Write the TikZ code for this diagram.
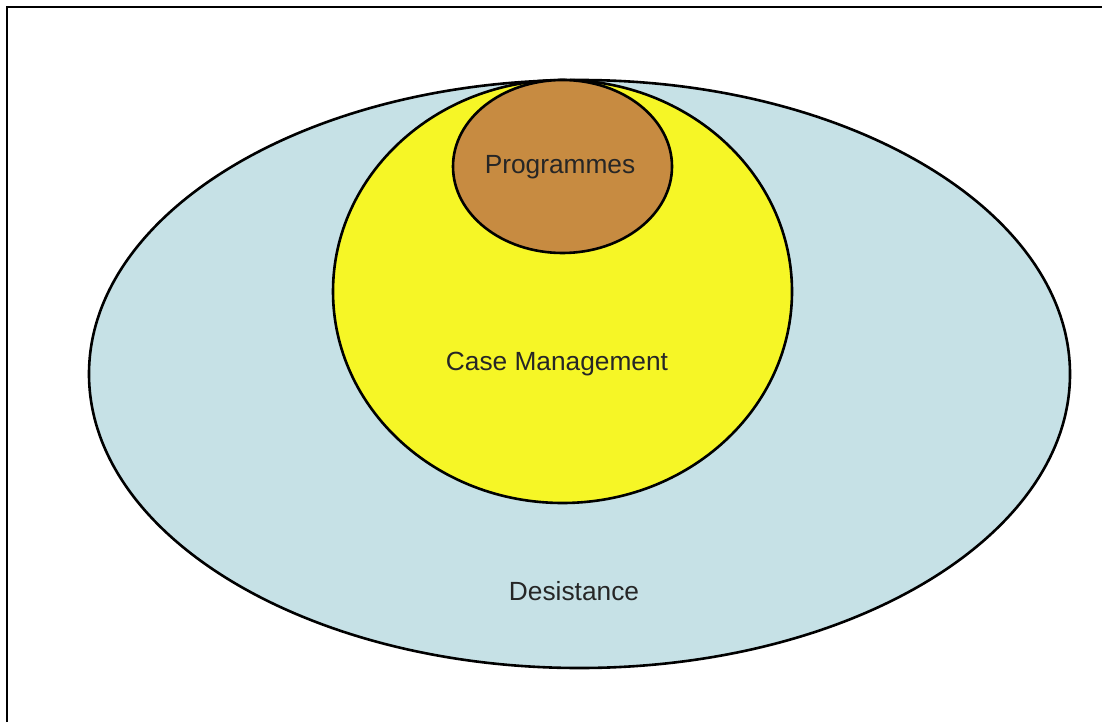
\documentclass[tikz,border=0pt]{standalone}
\usepackage{fontspec}
\setmainfont{Liberation Sans}
\usepackage{xcolor}
\usetikzlibrary{positioning}

\definecolor{desistblue}{rgb}{0.776,0.882,0.902}
\definecolor{caseyellow}{rgb}{0.965,0.965,0.150}
\definecolor{progbrown}{rgb}{0.780,0.545,0.255}

\tikzset{
  ring/.style={draw=black,line width=0.065cm},
  label/.style={inner sep=0pt,text=black!85,font=\fontsize{18.7}{21}\selectfont}
}

\begin{document}
\begin{tikzpicture}[x=0.025cm,y=-0.025cm]
                    \useasboundingbox (0,0) rectangle (1102,722);

                    % Drawing frame
                    \draw [line width=0.07cm] (7,722) -- (7,7) -- (1102,7);%

                    % Drawing ellipse Desistance
                    \filldraw [ring,fill=desistblue] (579.5,374) ellipse (490.5 and 294);%

                    % Drawing ellipse Case Management
                    \filldraw [ring,fill=caseyellow] (562.5,291.5) ellipse (229.5 and 211.5);%

                    % Drawing ellipse Programmes
                    \filldraw [ring,fill=progbrown] (562.5,166.5) ellipse (109.5 and 86.5);%

                    % Marking labels
                    \node [label] (prog) at (560,167) {Programmes};%
                    \node [label] (casem) at (557,364) {Case Management};%
                    \node [label] (desist) at (574,591) {Desistance};%
\end{tikzpicture}
\end{document}
